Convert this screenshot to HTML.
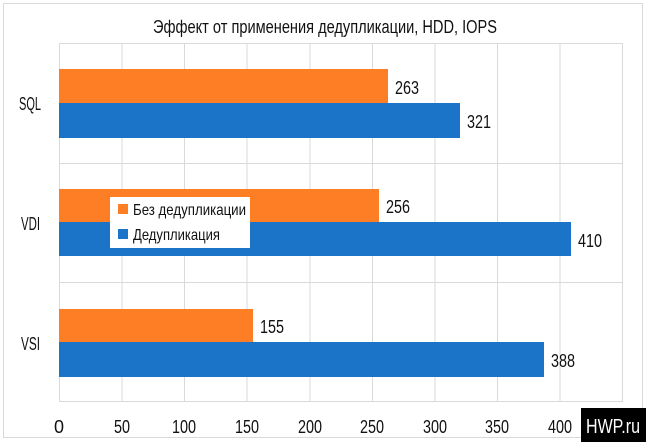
<!DOCTYPE html>
<html><head><meta charset="utf-8"><style>
body{margin:0;background:#fff}
svg{display:block}
text{font-family:"Liberation Sans",sans-serif;fill:#111}
</style></head><body>
<svg width="646" height="442" viewBox="0 0 646 442">
<rect x="0" y="0" width="646" height="442" fill="#fff"/>
<rect x="3.5" y="3.5" width="639" height="434" fill="none" stroke="#d9d9d9"/>
<text x="325" y="33" text-anchor="middle" font-size="18" textLength="344" lengthAdjust="spacingAndGlyphs">Эффект от применения дедупликации, HDD, IOPS</text>
<g stroke="#d9d9d9" stroke-width="1">
<line x1="59.5" y1="43" x2="59.5" y2="402"/>
<line x1="122" y1="43" x2="122" y2="402"/>
<line x1="184.5" y1="43" x2="184.5" y2="402"/>
<line x1="247" y1="43" x2="247" y2="402"/>
<line x1="310" y1="43" x2="310" y2="402"/>
<line x1="372.5" y1="43" x2="372.5" y2="402"/>
<line x1="435" y1="43" x2="435" y2="402"/>
<line x1="497.5" y1="43" x2="497.5" y2="402"/>
<line x1="560" y1="43" x2="560" y2="402"/>
<line x1="622.5" y1="43" x2="622.5" y2="402"/>
<line x1="59" y1="43.5" x2="623" y2="43.5"/>
<line x1="59" y1="163.5" x2="623" y2="163.5"/>
<line x1="59" y1="282.5" x2="623" y2="282.5"/>
<line x1="59" y1="401.5" x2="623" y2="401.5"/>
</g>
<g>
<rect x="59" y="69" width="329" height="34" fill="#fd7e25"/>
<rect x="59" y="103" width="401" height="35" fill="#1b74c7"/>
<rect x="59" y="189" width="320" height="33" fill="#fd7e25"/>
<rect x="59" y="222" width="512" height="34" fill="#1b74c7"/>
<rect x="59" y="309" width="194" height="33" fill="#fd7e25"/>
<rect x="59" y="342" width="485" height="35" fill="#1b74c7"/>
</g>
<g font-size="18" lengthAdjust="spacingAndGlyphs">
<text x="395" y="94" textLength="24" lengthAdjust="spacingAndGlyphs">263</text>
<text x="467" y="128" textLength="24" lengthAdjust="spacingAndGlyphs">321</text>
<text x="386" y="213" textLength="24" lengthAdjust="spacingAndGlyphs">256</text>
<text x="578" y="247" textLength="24" lengthAdjust="spacingAndGlyphs">410</text>
<text x="260" y="333" textLength="24" lengthAdjust="spacingAndGlyphs">155</text>
<text x="551" y="367" textLength="24" lengthAdjust="spacingAndGlyphs">388</text>
<text x="19" y="110" textLength="22" lengthAdjust="spacingAndGlyphs">SQL</text>
<text x="21" y="230" textLength="19" lengthAdjust="spacingAndGlyphs">VDI</text>
<text x="21" y="350" textLength="19" lengthAdjust="spacingAndGlyphs">VSI</text>
</g>
<g font-size="18" text-anchor="middle">
<text x="59" y="433">0</text>
<text x="122" y="433" textLength="16" lengthAdjust="spacingAndGlyphs">50</text>
<text x="184" y="433" textLength="24" lengthAdjust="spacingAndGlyphs">100</text>
<text x="247" y="433" textLength="24" lengthAdjust="spacingAndGlyphs">150</text>
<text x="310" y="433" textLength="24" lengthAdjust="spacingAndGlyphs">200</text>
<text x="372" y="433" textLength="24" lengthAdjust="spacingAndGlyphs">250</text>
<text x="435" y="433" textLength="24" lengthAdjust="spacingAndGlyphs">300</text>
<text x="497" y="433" textLength="24" lengthAdjust="spacingAndGlyphs">350</text>
<text x="560" y="433" textLength="24" lengthAdjust="spacingAndGlyphs">400</text>
</g>
<rect x="110" y="197" width="140" height="51" fill="#fff"/>
<rect x="118" y="204" width="10" height="10" fill="#fd7e25"/>
<rect x="118" y="229" width="10" height="10" fill="#1b74c7"/>
<text x="133" y="215" font-size="16" textLength="113" lengthAdjust="spacingAndGlyphs">Без дедупликации</text>
<text x="133" y="240" font-size="16" textLength="87" lengthAdjust="spacingAndGlyphs">Дедупликация</text>
<rect x="581" y="408" width="65" height="34" fill="#000"/>
<text x="613" y="433" font-size="20" text-anchor="middle" textLength="54" lengthAdjust="spacingAndGlyphs" style="fill:#fff">HWP.ru</text>
</svg>
</body></html>
